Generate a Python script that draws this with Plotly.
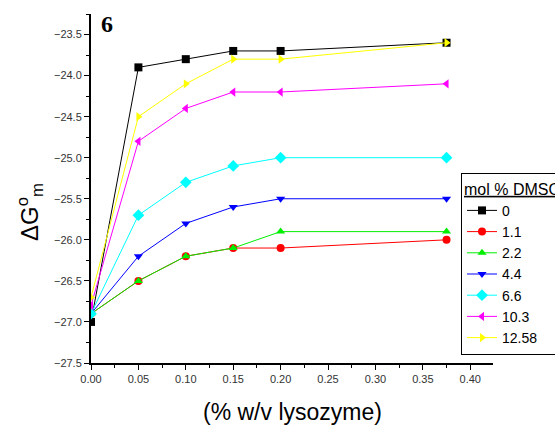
import plotly.graph_objects as go

# ---- data ----
lysozyme = [0.0, 0.05, 0.10, 0.15, 0.20, 0.375]
dmso_labels = ["0", "1.1", "2.2", "4.4", "6.6", "10.3", "12.58"]
dg_0 = [-27.0, -23.9, -23.8, -23.7, -23.7, -23.6]
dg_1_1 = [-26.9, -26.5, -26.2, -26.1, -26.1, -26.0]
dg_2_2 = [-26.9, -26.5, -26.2, -26.1, -25.9, -25.9]
dg_4_4 = [-26.9, -26.2, -25.8, -25.6, -25.5, -25.5]
dg_6_6 = [-26.9, -25.7, -25.3, -25.1, -25.0, -25.0]
dg_10_3 = [-26.8, -24.8, -24.4, -24.2, -24.2, -24.1]
dg_12_58 = [-26.7, -24.5, -24.1, -23.8, -23.8, -23.6]
series_values = [dg_0, dg_1_1, dg_2_2, dg_4_4, dg_6_6, dg_10_3, dg_12_58]

# ---- styles ----
colors = ["#000000", "#ff0000", "#00ee00", "#0000ff", "#00ffff", "#ff00ff", "#ffff00"]
symbols = ["square", "circle", "triangle-up", "triangle-down", "diamond",
           "triangle-left", "triangle-right"]

W, H = 555, 426
L, R, T, B = 91, 62, 14, 63
pw, ph = W - L - R, H - T - B

fig = go.Figure()
for name, vals, c, s in zip(dmso_labels, series_values, colors, symbols):
    fig.add_trace(go.Scatter(
        x=lysozyme, y=vals, name=name, mode="lines+markers",
        line=dict(color=c, width=1),
        marker=dict(color=c, symbol=s, size=8 if s != "diamond" else 9,
                    line=dict(width=0)),
    ))

tickfont = dict(family="Liberation Sans, Arial, sans-serif", size=11, color="#333333")

fig.update_layout(
    width=W, height=H,
    margin=dict(l=L, r=R, t=T, b=B, autoexpand=False),
    plot_bgcolor="white", paper_bgcolor="white",
    font=dict(family="Liberation Sans, Arial, sans-serif", color="#000000"),
    xaxis=dict(
        range=[0, 0.424], showgrid=False, zeroline=False,
        showline=True, linecolor="black", linewidth=2,
        ticks="outside", ticklen=5, tickwidth=1, tickcolor="black",
        dtick=0.05, tick0=0, tickformat=".2f", tickfont=tickfont,
        minor=dict(ticks="outside", ticklen=3, tickwidth=1, tickcolor="black", dtick=0.025, tick0=0),
    ),
    yaxis=dict(
        range=[-27.5, -23.25], showgrid=False, zeroline=False,
        showline=True, linecolor="black", linewidth=2,
        ticks="outside", ticklen=5, tickwidth=1, tickcolor="black",
        dtick=0.5, tick0=-27.5, tickformat=".1f", tickfont=tickfont,
        minor=dict(ticks="outside", ticklen=3, tickwidth=1, tickcolor="black", dtick=0.25, tick0=-27.5),
    ),
    legend=dict(
        x=(461 - L) / pw, y=(363 - 173) / ph, xanchor="left", yanchor="top",
        bordercolor="black", borderwidth=1, bgcolor="white",
        font=dict(family="Liberation Sans, Arial, sans-serif", size=14, color="black"),
        title=dict(text="<span style='text-decoration:underline'>mol % DMSO</span>",
                   font=dict(family="Liberation Sans, Arial, sans-serif", size=16, color="black")),
        tracegroupgap=0, itemwidth=30,
    ),
    showlegend=True,
)

fig.add_annotation(
    text="(% w/v lysozyme)", xref="paper", yref="paper",
    x=0.5, y=-(412 - 363) / ph, xanchor="center", yanchor="middle",
    showarrow=False, font=dict(size=23, color="black"),
)
fig.add_annotation(
    text="ΔG<sup>o</sup><sub>m</sub>", xref="paper", yref="paper",
    x=-(91 - 30) / pw, y=(363 - 212) / ph, xanchor="center", yanchor="middle",
    textangle=-90, showarrow=False, font=dict(size=24, color="black"),
)
fig.add_annotation(
    text="<b>6</b>", xref="paper", yref="paper",
    x=(99 - L) / pw, y=(363 - 24) / ph, xanchor="left", yanchor="middle",
    showarrow=False,
    font=dict(family="Liberation Serif, Times New Roman, serif", size=24, color="black"),
)

fig.write_html("out.html", config={"displayModeBar": False},
               post_script="document.body.style.margin='0';document.body.style.overflow='hidden';")
